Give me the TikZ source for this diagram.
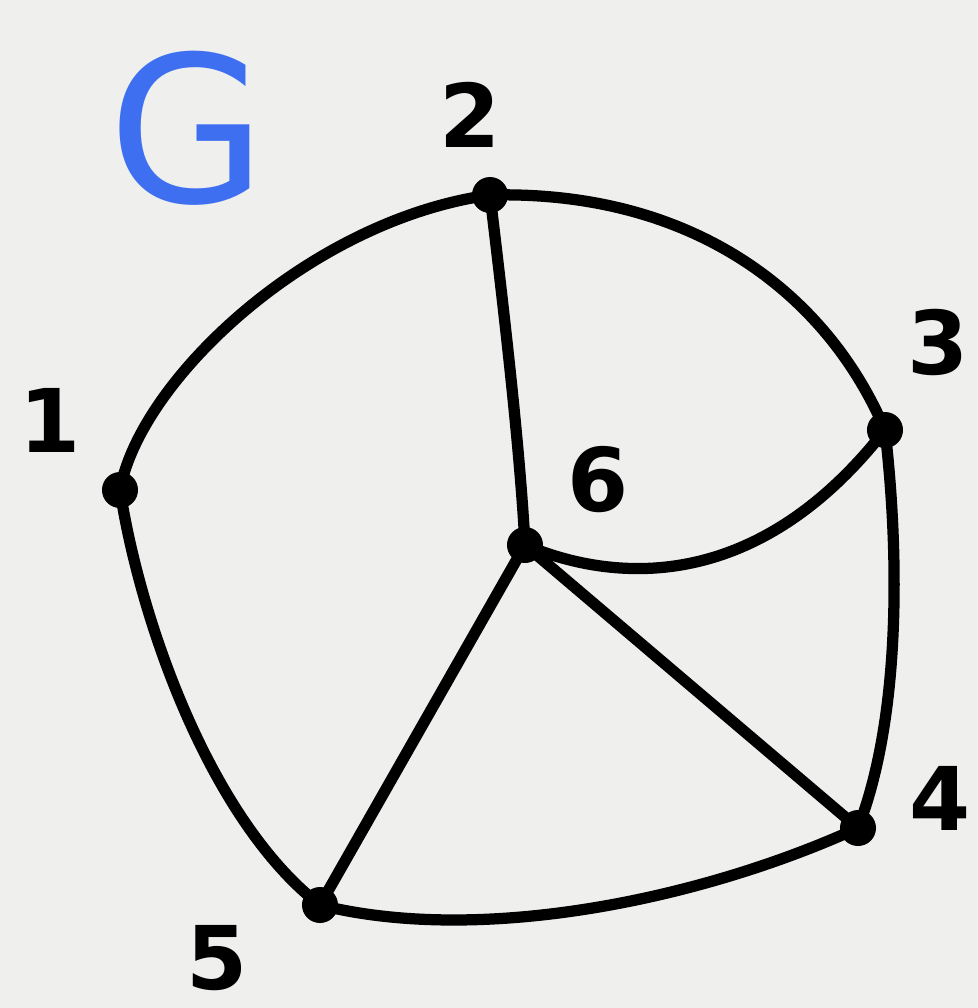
\documentclass[tikz,border=0pt]{standalone}
\usepackage{fontspec}
\setmainfont{DejaVu Sans}
\definecolor{bg}{HTML}{EFEFED}
\definecolor{gblue}{HTML}{3D6FF0}
\begin{document}
\begin{tikzpicture}[x=0.01cm,y=-0.01cm,
  edge/.style={line width=3.2pt,line cap=round,line join=round,black},
  vtx/.style={circle,fill=black,inner sep=0pt,minimum size=0.36cm},
  lbl/.style={font=\fontsize{25}{25}\selectfont\bfseries,inner sep=0pt}]
\fill[bg] (0,0) rectangle (978,1008);
\useasboundingbox (0,0) rectangle (978,1008);
\node[vtx] (v1) at (120,490) {};
\node[vtx] (v2) at (490,195) {};
\node[vtx] (v3) at (885,430) {};
\node[vtx] (v4) at (858,828) {};
\node[vtx] (v5) at (320,905) {};
\node[vtx] (v6) at (525,545) {};
\node[font=\fontsize{58}{58}\selectfont,text=gblue,inner sep=0pt] (g) at (188,128) {G};
\node[lbl] (l1) at (50,420) {1};
\node[lbl] (l2) at (470,115) {2};
\node[lbl] (l3) at (938,342) {3};
\node[lbl] (l4) at (940,798) {4};
\node[lbl] (l5) at (217,958) {5};
\node[lbl] (l6) at (598,480) {6};
\draw[edge] (v1.center) .. controls (140,380) and (310,220) .. (v2.center);
\draw[edge] (v2.center) .. controls (700,190) and (830,300) .. (v3.center);
\draw[edge] (v3.center) .. controls (900,560) and (900,720) .. (v4.center);
\draw[edge] (v4.center) .. controls (700,900) and (480,945) .. (v5.center);
\draw[edge] (v5.center) .. controls (210,820) and (140,620) .. (v1.center);
\draw[edge] (v2.center) .. controls (505,320) and (520,450) .. (v6.center);
\draw[edge] (v6.center) .. controls (620,585) and (760,590) .. (v3.center);
\draw[edge] (v6.center) -- (v4.center);
\draw[edge] (v6.center) -- (v5.center);
\end{tikzpicture}
\end{document}
